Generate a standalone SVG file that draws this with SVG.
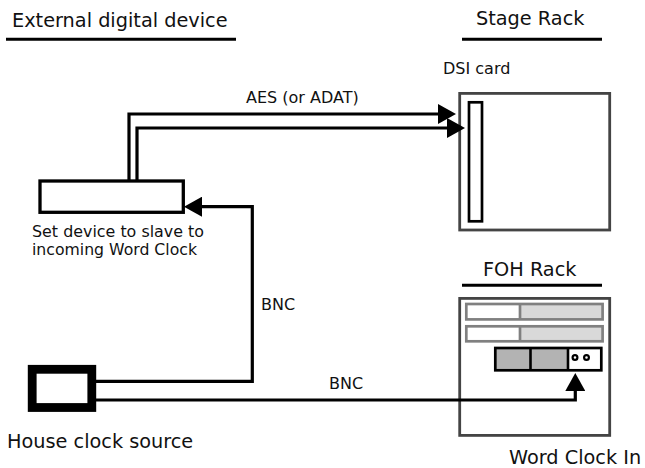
<svg xmlns="http://www.w3.org/2000/svg" width="645" height="468" viewBox="0 0 645 468">
<style>
text{font-family:"DejaVu Sans","Liberation Sans",sans-serif;fill:#111}
.t{font-size:19.3px}
.l{font-size:16px}
.s{font-size:15.2px}
.ul{stroke:#000;stroke-width:3}
.wire{fill:none;stroke:#000;stroke-width:3.2}
.rack{fill:#fff;stroke:#444;stroke-width:2.8}
.row{stroke:#808080;stroke-width:2.7}
</style>
<defs>
<marker id="ah" markerUnits="userSpaceOnUse" markerWidth="18" markerHeight="20" refX="0" refY="10" orient="auto">
<path d="M0,0 L18,10 L0,20 z" fill="#000"/>
</marker>
</defs>
<g id="titles">
<text class="t" x="12" y="27">External digital device</text>
<line class="ul" x1="6" y1="39.3" x2="236" y2="39.3"/>
<text class="t" x="476" y="25">Stage Rack</text>
<line class="ul" x1="462" y1="39.3" x2="602" y2="39.3"/>
<text class="t" x="483" y="276">FOH Rack</text>
<line class="ul" x1="462" y1="285.3" x2="602" y2="285.3"/>
</g>
<g id="stage-rack">
<rect class="rack" x="459.7" y="93.4" width="150" height="136.6"/>
<text class="l" x="443" y="74">DSI card</text>
<rect id="dsi-card" x="469" y="102.3" width="13" height="119" fill="#fff" stroke="#000" stroke-width="2.7"/>
</g>
<g id="foh-rack">
<rect class="rack" x="459.7" y="298.4" width="150" height="137"/>
<rect x="520" y="304" width="82.6" height="15.4" fill="#d9d9d9"/>
<rect class="row" x="466.3" y="304" width="136.3" height="15.4" fill="none"/>
<line class="row" x1="520" y1="304" x2="520" y2="319.4"/>
<rect x="520" y="326.3" width="82.6" height="15" fill="#d9d9d9"/>
<rect class="row" x="466.3" y="326.3" width="136.3" height="15" fill="none"/>
<line class="row" x1="520" y1="326.3" x2="520" y2="341.3"/>
<rect x="495.3" y="348" width="73" height="22.3" fill="#b3b3b3"/>
<rect x="495.3" y="348" width="106" height="22.3" fill="none" stroke="#000" stroke-width="2.7"/>
<line x1="530.5" y1="348" x2="530.5" y2="370.3" stroke="#000" stroke-width="2.6"/>
<line x1="568" y1="348" x2="568" y2="370.3" stroke="#000" stroke-width="2.6"/>
<circle cx="575" cy="357.5" r="2.4" fill="#fff" stroke="#000" stroke-width="2.2"/>
<circle cx="586.5" cy="357.5" r="2.4" fill="#fff" stroke="#000" stroke-width="2.2"/>
<text class="t" x="509" y="464">Word Clock In</text>
</g>
<g id="external-device">
<rect x="40" y="181" width="143.3" height="31.3" fill="#fff" stroke="#000" stroke-width="3.3"/>
<text class="s" x="32" y="236.5" textLength="172" lengthAdjust="spacingAndGlyphs">Set device to slave to</text>
<text class="s" x="32" y="254.5" textLength="165" lengthAdjust="spacingAndGlyphs">incoming Word Clock</text>
</g>
<g id="house-clock">
<rect x="32.2" y="369.3" width="59.6" height="38.2" fill="#fff" stroke="#000" stroke-width="8.8"/>
<text class="t" x="7" y="448">House clock source</text>
</g>
<g id="connectors">
<polyline class="wire" points="129,181 129,114 438,114" marker-end="url(#ah)"/>
<polyline class="wire" points="137,181 137,128 447,128" marker-end="url(#ah)"/>
<text class="l" x="246" y="103">AES (or ADAT)</text>
<polyline class="wire" points="96,381.3 252.3,381.3 252.3,206.7 202,206.7" marker-end="url(#ah)"/>
<text class="l" x="261" y="310">BNC</text>
<polyline class="wire" points="96,400 575.3,400 575.3,391" marker-end="url(#ah)"/>
<text class="l" x="329" y="389">BNC</text>
</g>
</svg>
